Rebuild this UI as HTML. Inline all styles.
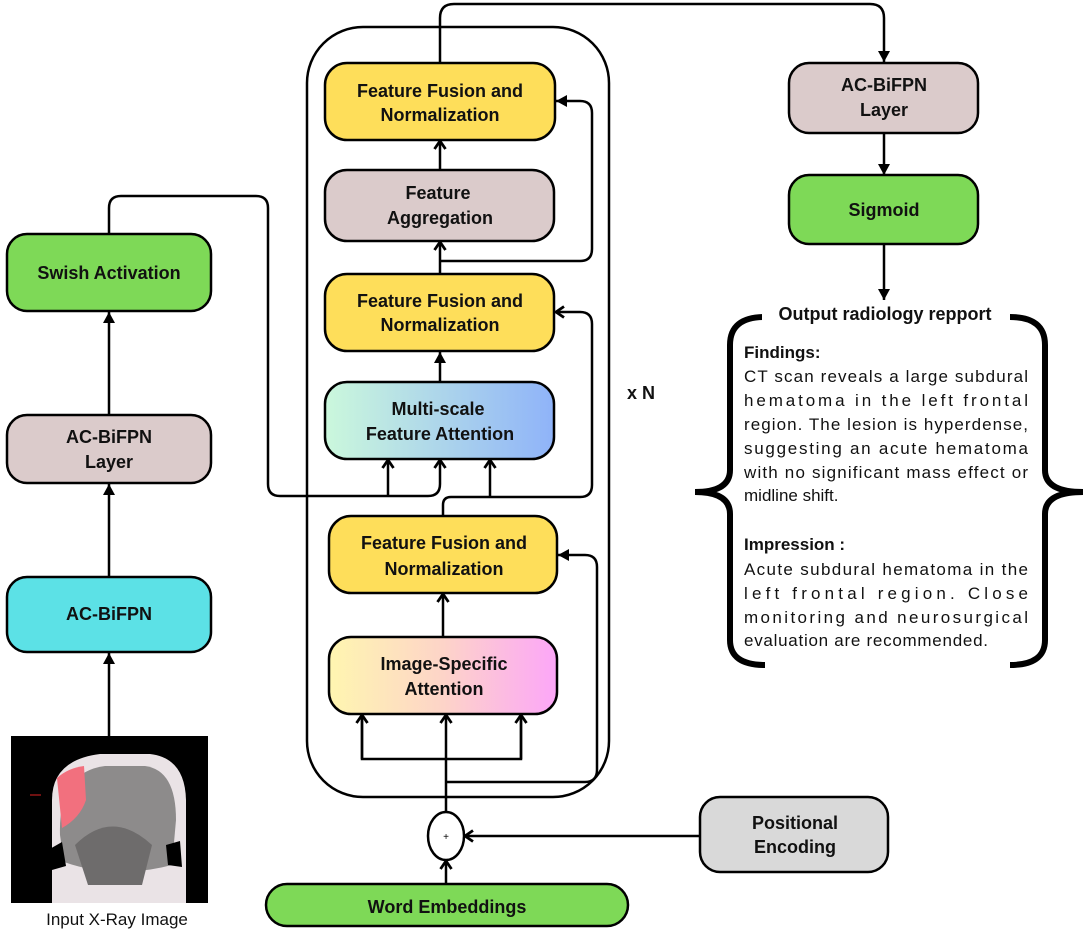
<!DOCTYPE html>
<html><head><meta charset="utf-8"><style>
html,body{margin:0;padding:0;background:#fff;}
svg{display:block;}
text{font-family:"Liberation Sans",sans-serif;}
.b{font-weight:bold;font-size:18px;fill:#111;}
.r{font-size:17px;fill:#111;}
</style></head><body>
<svg width="1088" height="937" viewBox="0 0 1088 937" xmlns="http://www.w3.org/2000/svg">
<defs>
<linearGradient id="gm" x1="0" x2="1" y1="0" y2="0"><stop offset="0" stop-color="#cbf8dc"/><stop offset="1" stop-color="#8fb3f9"/></linearGradient>
<linearGradient id="gi" x1="0" x2="1" y1="0" y2="0"><stop offset="0" stop-color="#fff6b0"/><stop offset="0.5" stop-color="#fdd4c8"/><stop offset="1" stop-color="#fca6f8"/></linearGradient>
<marker id="a" markerWidth="14" markerHeight="14" refX="11" refY="7" orient="auto" markerUnits="userSpaceOnUse"><path d="M3,1.5 L11,7 L3,12.5" fill="none" stroke="#000" stroke-width="2.8"/></marker>
<marker id="f" markerWidth="14" markerHeight="14" refX="12" refY="7" orient="auto" markerUnits="userSpaceOnUse"><path d="M1,1 L12,7 L1,13 Z" fill="#000"/></marker>
</defs>
<g fill="none" stroke="#000" stroke-width="2.5">
<rect x="307" y="27" width="302" height="770" rx="56"/>
<path d="M440,63 V18 Q440,4 454,4 H870 Q884,4 884,18 V62" marker-end="url(#f)"/>
<path d="M884,133 V175" marker-end="url(#f)"/>
<path d="M884,244 V300" marker-end="url(#f)"/>
<path d="M440,170 V141" marker-end="url(#a)"/>
<path d="M440,274 V242" marker-end="url(#a)"/>
<path d="M440,261 H580 Q592,261 592,249 V113 Q592,101 580,101 H556" marker-end="url(#f)"/>
<path d="M440,382 V352" marker-end="url(#f)"/>
<path d="M443,516 V505 Q443,497 451,497 H580 Q592,497 592,485 V324 Q592,312 580,312 H556" marker-end="url(#a)"/>
<path d="M490,497 V460" marker-end="url(#a)"/>
<path d="M109,234 V208 Q109,196 121,196 H256 Q268,196 268,208 V484 Q268,496 280,496 H428 Q440,496 440,484 V460" marker-end="url(#a)"/>
<path d="M388,497 V460" marker-end="url(#a)"/>
<path d="M443,637 V594" marker-end="url(#a)"/>
<path d="M446,812 V715" marker-end="url(#a)"/>
<path d="M362,717 V759 H521 V717" />
<path d="M362,759 V715" marker-end="url(#a)"/>
<path d="M521,759 V715" marker-end="url(#a)"/>
<path d="M446,782 H585 Q597,782 597,770 V567 Q597,555 585,555 H558" marker-end="url(#f)"/>
<path d="M446,884 V861" marker-end="url(#a)"/>
<path d="M700,836 H465" marker-end="url(#a)"/>
<path d="M109,736 V653" marker-end="url(#f)"/>
<path d="M109,577 V484" marker-end="url(#f)"/>
<path d="M109,415 V312" marker-end="url(#f)"/>
</g>
<g stroke="#000" stroke-width="2.5">
<rect x="325" y="63" width="230" height="77" rx="22" fill="#fede5a"/>
<rect x="325" y="170" width="229" height="71" rx="22" fill="#dbcbcb"/>
<rect x="325" y="274" width="229" height="77" rx="22" fill="#fede5a"/>
<rect x="325" y="382" width="229" height="77" rx="22" fill="url(#gm)"/>
<rect x="329" y="516" width="228" height="77" rx="22" fill="#fede5a"/>
<rect x="329" y="637" width="228" height="77" rx="22" fill="url(#gi)"/>
<rect x="266" y="884" width="362" height="42" rx="21" fill="#7ed957"/>
<ellipse cx="446" cy="836" rx="18" ry="24" fill="#fff"/>
<rect x="700" y="797" width="188" height="75" rx="20" fill="#d9d9d9"/>
<rect x="7" y="234" width="204" height="77" rx="20" fill="#7ed957"/>
<rect x="7" y="415" width="204" height="68" rx="20" fill="#dbcbcb"/>
<rect x="7" y="577" width="204" height="75" rx="20" fill="#5ce1e6"/>
<rect x="789" y="63" width="189" height="70" rx="20" fill="#dbcbcb"/>
<rect x="789" y="175" width="189" height="69" rx="20" fill="#7ed957"/>
</g>
<g class="b" text-anchor="middle">
<text x="440" y="97">Feature Fusion and</text><text x="440" y="121">Normalization</text>
<text x="438" y="199">Feature</text><text x="440" y="224">Aggregation</text>
<text x="440" y="307">Feature Fusion and</text><text x="440" y="331">Normalization</text>
<text x="438" y="415">Multi-scale</text><text x="440" y="440">Feature Attention</text>
<text x="444" y="549">Feature Fusion and</text><text x="444" y="575">Normalization</text>
<text x="444" y="670">Image-Specific</text><text x="444" y="695">Attention</text>
<text x="447" y="913">Word Embeddings</text>
<text x="795" y="829">Positional</text><text x="795" y="853">Encoding</text>
<text x="109" y="279">Swish Activation</text>
<text x="109" y="443">AC-BiFPN</text><text x="109" y="468">Layer</text>
<text x="109" y="620">AC-BiFPN</text>
<text x="884" y="91">AC-BiFPN</text><text x="884" y="116">Layer</text>
<text x="884" y="216">Sigmoid</text>
<text x="641" y="399">x N</text>
</g>
<text x="446" y="840" text-anchor="middle" font-size="10">+</text>
<g fill="none" stroke="#000" stroke-width="6">
<path d="M765,317 Q730,317 730,345 V470 Q730,492 695,492 Q730,492 730,514 V640 Q730,665 765,665"/>
<path d="M1010,317 Q1045,317 1045,345 V470 Q1045,492 1083,492 Q1045,492 1045,514 V640 Q1045,665 1010,665"/>
</g>
<rect x="762" y="303" width="248" height="24" fill="#fff"/>
<text class="b" x="885" y="320" text-anchor="middle">Output radiology repport</text>
<g class="r">
<text x="744" y="358" font-weight="bold">Findings:</text>
<text x="744" y="382" textLength="284" lengthAdjust="spacing">CT scan reveals a large subdural</text>
<text x="744" y="406" textLength="284" lengthAdjust="spacing">hematoma in the left frontal</text>
<text x="744" y="430" textLength="284" lengthAdjust="spacing">region. The lesion is hyperdense,</text>
<text x="744" y="454" textLength="284" lengthAdjust="spacing">suggesting an acute hematoma</text>
<text x="744" y="478" textLength="284" lengthAdjust="spacing">with no significant mass effect or</text>
<text x="744" y="501">midline shift.</text>
<text x="744" y="550" font-weight="bold">Impression :</text>
<text x="744" y="575" textLength="284" lengthAdjust="spacing">Acute subdural hematoma in the</text>
<text x="744" y="599" textLength="284" lengthAdjust="spacing">left frontal region. Close</text>
<text x="744" y="623" textLength="284" lengthAdjust="spacing">monitoring and neurosurgical</text>
<text x="744" y="646" textLength="244" lengthAdjust="spacing">evaluation are recommended.</text>
</g>
<rect x="11" y="736" width="197" height="167" fill="#000"/>
<path d="M52,903 V800 Q52,760 100,754 H150 Q185,758 186,800 V903 Z" fill="#eae3e6"/>
<path d="M60,835 Q58,772 105,766 H145 Q176,770 176,820 L172,865 Q115,880 64,862 Z" fill="#8d8b8b"/>
<path d="M57,778 Q68,768 84,766 L86,800 Q80,818 62,828 Z" fill="#f2707e"/>
<path d="M75,845 Q112,808 152,845 L142,885 H88 Z" fill="#6e6c6c"/>
<path d="M48,850 l14,-8 l4,24 l-14,4 Z M166,845 l14,-4 l2,26 l-14,-2 Z" fill="#000"/>
<path d="M30,795 H41" stroke="#d22" stroke-width="1"/>
<text x="117" y="925" text-anchor="middle" font-size="17" fill="#111">Input X-Ray Image</text>
</svg>
</body></html>
